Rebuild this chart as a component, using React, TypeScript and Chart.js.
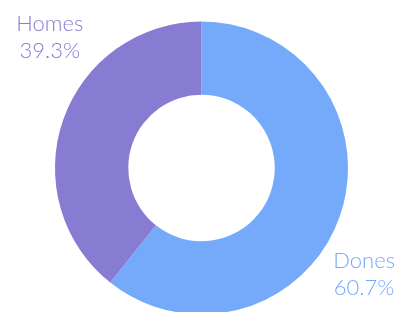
import React, { useEffect, useRef } from "react";
import { Chart, registerables } from "chart.js";

Chart.register(...registerables);

const categories = ["Dones", "Homes"];
const values = [60.7, 39.3];
const percentLabels = ["60.7%", "39.3%"];
const colors = ["#75aafb", "#877bd2"];

const labelPlugin = {
  id: "cornerLabels",
  afterDraw(chart: any) {
    const ctx = chart.ctx;
    const meta = chart.getDatasetMeta(0);
    const arc = meta.data[0];
    if (!arc) return;
    const cx = arc.x;
    const cy = arc.y;
    const r = arc.outerRadius;
    ctx.save();
    ctx.font = "300 22px Lato, 'Noto Sans', sans-serif";
    ctx.textAlign = "center";
    ctx.textBaseline = "middle";
    // Homes label (top-left)
    const hx = cx - r * 1.035;
    const hy = cy - r * 0.895;
    ctx.fillStyle = colors[1];
    ctx.fillText(categories[1], hx, hy - 13);
    ctx.fillText(percentLabels[1], hx, hy + 14);
    // Dones label (bottom-right)
    const dx = cx + r * 1.11;
    const dy = cy + r * 0.722;
    ctx.fillStyle = colors[0];
    ctx.fillText(categories[0], dx, dy - 13);
    ctx.fillText(percentLabels[0], dx, dy + 14);
    ctx.restore();
  },
};

export default function App() {
  const ref = useRef<HTMLCanvasElement | null>(null);
  useEffect(() => {
    if (!ref.current) return;
    const chart = new Chart(ref.current, {
      type: "doughnut",
      data: {
        labels: categories,
        datasets: [
          {
            data: values,
            backgroundColor: colors,
            borderWidth: 0,
            hoverOffset: 0,
          },
        ],
      },
      options: {
        animation: false,
        responsive: false,
        maintainAspectRatio: false,
        cutout: "50%",
        layout: { padding: { top: 21, bottom: 15, left: 55, right: 52 } },
        plugins: {
          legend: { display: false },
          tooltip: { enabled: false },
        },
      },
      plugins: [labelPlugin],
    });
    return () => chart.destroy();
  }, []);
  return (
    <div
      style={{
        position: "fixed",
        left: 0,
        top: 0,
        width: 400,
        height: 312,
        overflow: "hidden",
        background: "#ffffff",
      }}
    >
      <canvas ref={ref} width={400} height={330} style={{ display: "block" }} />
    </div>
  );
}
